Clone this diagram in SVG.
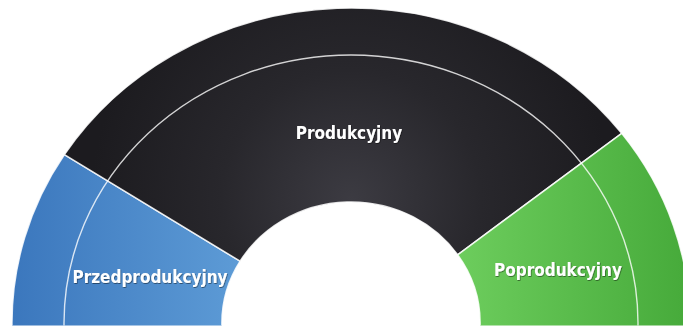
<svg xmlns="http://www.w3.org/2000/svg" width="683" height="327" viewBox="0 0 683 327">
  <defs>
    <clipPath id="cut"><rect x="0" y="0" width="683" height="325.5"/></clipPath>
    <linearGradient id="gBlue" gradientUnits="userSpaceOnUse" x1="12" y1="0" x2="240" y2="0">
      <stop offset="0" stop-color="#3b77bd"/>
      <stop offset="1" stop-color="#5d9bd6"/>
    </linearGradient>
    <linearGradient id="gGreen" gradientUnits="userSpaceOnUse" x1="457" y1="0" x2="683" y2="0">
      <stop offset="0" stop-color="#6dcd5d"/>
      <stop offset="1" stop-color="#47ab3b"/>
    </linearGradient>
    <radialGradient id="gDark" gradientUnits="userSpaceOnUse" cx="351" cy="200" r="260">
      <stop offset="0" stop-color="#3c3b42"/>
      <stop offset="0.5" stop-color="#28272c"/>
      <stop offset="1" stop-color="#1c1b1f"/>
    </radialGradient>
    <filter id="shadow" x="-10%" y="-30%" width="120%" height="160%">
      <feDropShadow dx="0.6" dy="0.8" stdDeviation="0.7" flood-color="#000" flood-opacity="0.55"/>
    </filter>
  </defs>
  <style>
    .seg { stroke: #ffffff; stroke-opacity: 0.85; stroke-width: 1.5; stroke-linejoin: round; }
    .ring { fill: none; stroke: #ffffff; stroke-opacity: 0.8; stroke-width: 1.4; }
    .lbl { font-family: "DejaVu Sans Condensed", "DejaVu Sans", sans-serif; font-weight: bold; font-size: 17px; fill: #ffffff; text-anchor: middle; filter: url(#shadow); }
  </style>
  <g clip-path="url(#cut)">
    <g id="seg-przedprodukcyjny">
      <path class="seg" fill="url(#gBlue)" d="M 12,328 A 339 315 0 0 1 64.4,154.7 L 240.1,261.2 A 129 121 0 0 0 222,328 Z"/>
    </g>
    <g id="seg-produkcyjny">
      <path class="seg" fill="url(#gDark)" d="M 64.4,154.7 A 339 315 0 0 1 621.7,133.4 L 457.6,254.8 A 129 121 0 0 0 240.1,261.2 Z"/>
    </g>
    <g id="seg-poprodukcyjny">
      <path class="seg" fill="url(#gGreen)" d="M 621.7,133.4 A 339 315 0 0 1 690,328 L 480,328 A 129 121 0 0 0 457.6,254.8 Z"/>
    </g>
    <g id="connectors">
      <ellipse class="ring" cx="351" cy="323" rx="287" ry="268"/>
    </g>
  </g>
  <g id="labels">
    <text class="lbl" x="349" y="139">Produkcyjny</text>
    <text class="lbl" x="150" y="283">Przedprodukcyjny</text>
    <text class="lbl" x="558" y="276">Poprodukcyjny</text>
  </g>
</svg>
